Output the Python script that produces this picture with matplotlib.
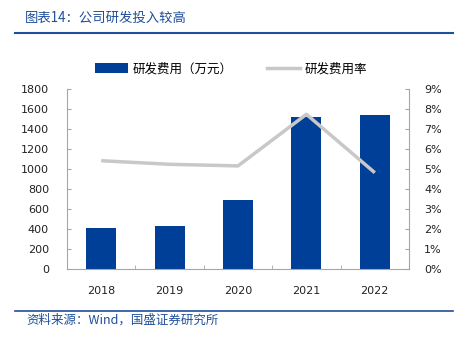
import matplotlib
matplotlib.use("Agg")
import matplotlib.pyplot as plt
from matplotlib.lines import Line2D
from matplotlib.patches import Patch

plt.rcParams['font.family'] = ['DejaVu Sans', 'Noto Sans CJK SC']

years = ['2018', '2019', '2020', '2021', '2022']
rd_expense = [410, 430, 695, 1520, 1545]          # 万元
rd_ratio = [5.43, 5.25, 5.17, 7.75, 4.83]          # %
left_ticks = [0, 200, 400, 600, 800, 1000, 1200, 1400, 1600, 1800]
right_ticks = [0, 1, 2, 3, 4, 5, 6, 7, 8, 9]

BLUE = '#003f98'
GRAY = '#c8c8c8'
TXT_BLUE = '#1f4e9a'
CJK = ['Noto Sans CJK SC', 'DejaVu Sans']

fig = plt.figure(figsize=(4.59, 3.37), dpi=100)
W, H = 459, 337
ax = fig.add_axes([67 / W, 1 - 269.3 / H, (409 - 67) / W, 180 / H])
ax2 = ax.twinx()

x = list(range(len(years)))
ax.bar(x, rd_expense, width=0.44, color=BLUE, zorder=2)
ax2.plot(x, rd_ratio, color=GRAY, lw=2.5, zorder=3, solid_capstyle='butt')

ax.set_xlim(-0.5, 4.5)
ax.set_ylim(0, 1800)
ax.set_yticks(left_ticks)
ax.set_yticklabels([str(v) for v in left_ticks])
ax2.set_ylim(0, 9)
ax2.set_yticks(right_ticks)
ax2.set_yticklabels([f'{v}%' for v in right_ticks])

ax.set_xticks(x)
ax.set_xticklabels(years)
ax.set_xticks([i + 0.5 for i in range(-1, 5)], minor=True)
ax.tick_params(axis='x', which='major', length=0, pad=12, labelsize=8, colors='#222222')
ax.tick_params(axis='x', which='minor', direction='in', length=3, color='#a6a6a6')
ax.tick_params(axis='y', direction='in', length=3, color='#a6a6a6', labelsize=8,
               labelcolor='#222222', pad=13)
ax2.tick_params(axis='y', direction='in', length=3, color='#a6a6a6', labelsize=8,
                labelcolor='#222222', pad=11)

for a in (ax, ax2):
    for s in a.spines.values():
        s.set_visible(False)
    a.set_facecolor('none')
ax.spines['left'].set_visible(True)
ax.spines['bottom'].set_visible(True)
ax2.spines['right'].set_visible(True)
for s in (ax.spines['left'], ax.spines['bottom'], ax2.spines['right']):
    s.set_color('#a6a6a6')
    s.set_linewidth(0.8)

# legend
handles = [Patch(facecolor=BLUE, edgecolor='none'),
           Line2D([0], [0], color=GRAY, lw=2.5)]
fig.legend(handles, ['研发费用（万元）', '研发费用率'], loc='center',
           bbox_to_anchor=(231 / W, 1 - 69 / H), ncol=2, frameon=False,
           prop={'family': CJK, 'size': 9}, handlelength=2.65, handleheight=0.8,
           columnspacing=2.7, handletextpad=0.4)

# title & source
fig.text(25 / W, 1 - 18 / H, '图表14：公司研发投入较高', family=CJK, style='italic',
         fontsize=9.6, color=TXT_BLUE, va='center', ha='left')
fig.add_artist(Line2D([15 / W, 453 / W], [1 - 32.5 / H] * 2, color=TXT_BLUE, lw=1.5))
fig.add_artist(Line2D([15 / W, 453 / W], [1 - 311 / H] * 2, color=TXT_BLUE, lw=1.2))
fig.text(26 / W, 1 - 320 / H, '资料来源：Wind，国盛证券研究所', family=CJK, style='italic',
         fontsize=9, color=TXT_BLUE, va='center', ha='left')

fig.savefig('out.png', dpi=100)
